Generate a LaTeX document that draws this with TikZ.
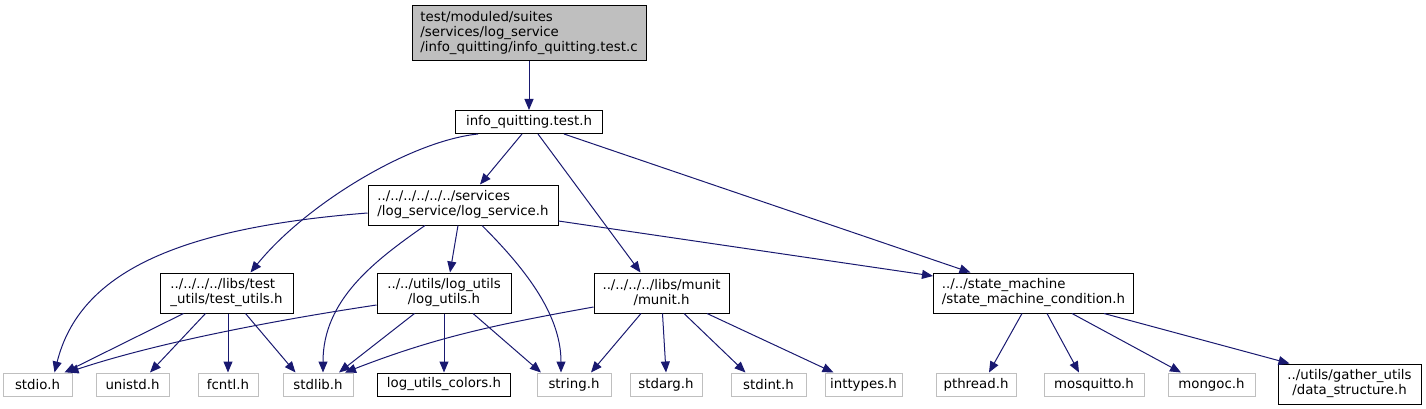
\documentclass[tikz,border=0pt]{standalone}
\usepackage{fontspec}
\setmainfont{DejaVu Sans}
\usetikzlibrary{arrows.meta}
\definecolor{bleuarc}{HTML}{191970}
\definecolor{grisbord}{HTML}{BFBFBF}
\begin{document}
\begin{tikzpicture}[x=1pt,y=-1pt,
  inc/.style={draw=black,line width=1pt,inner sep=0pt,minimum height=23,
    font=\fontsize{13.33}{15}\selectfont},
  sys/.style={inc,draw=grisbord},
  fl/.style={-{Triangle[length=11pt,width=9pt]},bleuarc,line width=1pt}]
  \useasboundingbox (0,0) rectangle (1426,409);

  % Fichier source et en-tete
  \node[inc,fill=grisbord,minimum width=234,minimum height=55,align=left] (source) at (529,33)
    {test/moduled/suites\\/services/log\_service\\/info\_quitting/info\_quitting.test.c};
  \node[inc,minimum width=147] (infoh) at (529,122) {info\_quitting.test.h};

  % Niveau intermediaire
  \node[inc,minimum width=190,minimum height=40,align=left] (logsrv) at (463,205)
    {../../../../../../services\\/log\_service/log\_service.h};
  \node[inc,minimum width=133,minimum height=40,align=left] (testut) at (226.5,293)
    {../../../../libs/test\\\_utils/test\_utils.h};
  \node[inc,minimum width=134,minimum height=40,align=center] (logut) at (444,293)
    {../../utils/log\_utils\\/log\_utils.h};
  \node[inc,minimum width=135,minimum height=40,align=center] (munit) at (661.5,293)
    {../../../../libs/munit\\/munit.h};
  \node[inc,minimum width=200,minimum height=40,align=left] (statem) at (1033.5,293)
    {../../state\_machine\\/state\_machine\_condition.h};

  % En-tetes du bas
  \node[sys,minimum width=69] (stdio) at (37.5,384.5) {stdio.h};
  \node[sys,minimum width=73] (unistd) at (132.5,384.5) {unistd.h};
  \node[sys,minimum width=60] (fcntl) at (228,384.5) {fcntl.h};
  \node[sys,minimum width=70] (stdlib) at (318,384.5) {stdlib.h};
  \node[inc,minimum width=133] (colors) at (444,384.5) {log\_utils\_colors.h};
  \node[sys,minimum width=74] (string) at (574,384.5) {string.h};
  \node[sys,minimum width=72] (stdarg) at (666,384.5) {stdarg.h};
  \node[sys,minimum width=75] (stdint) at (768.5,384.5) {stdint.h};
  \node[sys,minimum width=77] (inttypes) at (863.5,384.5) {inttypes.h};
  \node[sys,minimum width=80] (pthread) at (976,384.5) {pthread.h};
  \node[sys,minimum width=100] (mosq) at (1094,384.5) {mosquitto.h};
  \node[sys,minimum width=87] (mongoc) at (1211.5,384.5) {mongoc.h};
  \node[inc,minimum width=143,minimum height=40,align=center] (datastr) at (1349.5,384)
    {../utils/gather\_utils\\/data\_structure.h};

  % Dependances depuis le haut
  \draw[fl] (source) -- (infoh);
  \draw[fl] ([xshift=-7]infoh.south) -- ([xshift=17]logsrv.north);
  \draw[fl] ([xshift=-51]infoh.south) .. controls +(-68,7) and +(55,-68) .. ([xshift=24]testut.north);
  \draw[fl] ([xshift=9]infoh.south) -- ([xshift=-21]munit.north);
  \draw[fl] ([xshift=35]infoh.south) -- ([xshift=-63]statem.north);

  % Dependances de log_service.h
  \draw[fl] ([yshift=-8]logsrv.west) .. controls +(-190,15) and +(25,-100) .. ([xshift=17]stdio.north);
  \draw[fl] ([xshift=-38]logsrv.south) .. controls +(-50,35) and +(0,-73) .. ([xshift=5]stdlib.north);
  \draw[fl] ([xshift=-5]logsrv.south) -- ([xshift=6]logut.north);
  \draw[fl] ([xshift=19]logsrv.south) .. controls +(40,40) and +(0,-60) .. ([xshift=-13]string.north);
  \draw[fl] ([yshift=-16]logsrv.east) -- ([yshift=17]statem.west);

  % Dependances de test_utils.h
  \draw[fl] ([xshift=-43]testut.south) -- ([xshift=27]stdio.north);
  \draw[fl] ([xshift=-21]testut.south) -- ([xshift=17.5]unistd.north);
  \draw[fl] ([xshift=1.5]testut.south) -- (fcntl.north);
  \draw[fl] ([xshift=19]testut.south) -- ([xshift=-22.5]stdlib.north);

  % Dependances de log_utils.h
  \draw[fl] ([yshift=-12]logut.west) .. controls +(-100,15) and +(90,-30) .. ([xshift=30]stdio.north);
  \draw[fl] ([xshift=-29.5]logut.south) -- ([xshift=21]stdlib.north);
  \draw[fl] (logut) -- (colors);
  \draw[fl] ([xshift=29]logut.south) -- ([xshift=-33]string.north);

  % Dependances de munit.h
  \draw[fl] ([yshift=-14]munit.west) .. controls +(-100,18) and +(90,-35) .. ([xshift=27]stdlib.north);
  \draw[fl] ([xshift=-20.5]munit.south) -- ([xshift=17]string.north);
  \draw[fl] ([xshift=1]munit.south) -- (stdarg.north);
  \draw[fl] ([xshift=22.5]munit.south) -- ([xshift=-23]stdint.north);
  \draw[fl] ([xshift=45.5]munit.south) -- ([xshift=-30]inttypes.north);

  % Dependances de state_machine_condition.h
  \draw[fl] ([xshift=-11.5]statem.south) -- ([xshift=13]pthread.north);
  \draw[fl] ([xshift=13.5]statem.south) -- ([xshift=-15]mosq.north);
  \draw[fl] ([xshift=38.5]statem.south) -- ([xshift=-30.5]mongoc.north);
  \draw[fl] ([xshift=70.5]statem.south) -- ([xshift=-60]datastr.north);
\end{tikzpicture}
\end{document}
